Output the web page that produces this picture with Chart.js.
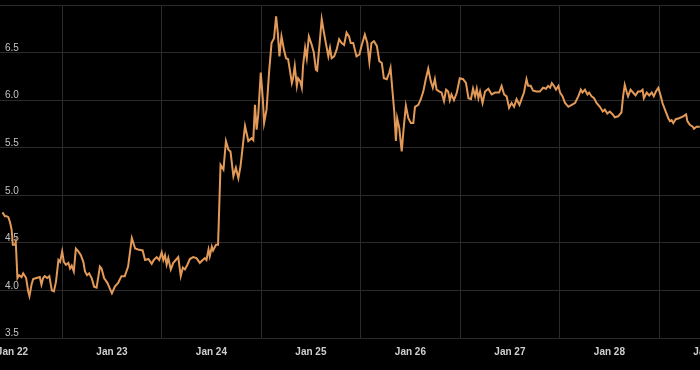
<!DOCTYPE html>
<html>
<head>
<meta charset="utf-8">
<script src="https://cdn.jsdelivr.net/npm/chart.js@4"></script>
<style>
    html, body { margin: 0; padding: 0; background: #000; }
    #wrap { width: 700px; height: 370px; overflow: hidden; position: relative; }
    #chart { display: block; }
</style>
</head>
<body>
<div id="wrap"><canvas id="chart" width="740" height="370"></canvas></div>
<script>
// Data: hours since Jan 22 00:00 and the value at that time
const hours = [
    -2.4, -1.8, -1.4, -1.0, -0.6, -0.2, 0.1, 0.6, 0.8, 1.2, 1.6, 2.2, 2.6, 3.3, 3.8, 4.1, 4.6, 5.0, 5.8, 6.6,
    7.0, 7.4, 7.8, 8.4, 8.9, 9.5, 10.0, 10.5, 11.1, 11.5, 12.0, 12.4, 12.9, 13.5, 13.9, 14.3, 14.8, 15.3, 15.9, 16.5,
    17.1, 17.5, 18.0, 18.5, 19.1, 19.7, 20.3, 21.1, 21.5, 22.1, 22.9, 23.5, 24.0, 24.7, 25.5, 26.3, 27.1, 27.9, 28.8, 29.6,
    30.3, 31.4, 32.0, 32.8, 33.6, 34.1, 34.8, 35.4, 36.0, 36.4, 36.8, 37.2, 37.6, 38.2, 38.8, 39.4, 40.0, 40.6, 41.1, 41.6,
    42.2, 42.8, 43.6, 44.4, 45.2, 45.9, 46.4, 46.8, 47.3, 47.6, 48.1, 48.4, 49.1, 49.6, 50.2, 50.9, 51.5, 52.1, 52.6, 53.3,
    53.9, 54.5, 55.0, 56.1, 56.9, 57.7, 58.1, 58.5, 58.9, 59.3, 59.9, 60.4, 60.7, 61.3, 61.9, 62.5, 63.1, 63.6, 64.0, 64.4,
    64.9, 65.5, 66.0, 66.5, 66.9, 67.4, 67.7, 68.1, 68.6, 68.9, 69.4, 69.8, 70.1, 70.6, 71.0, 71.5, 72.2, 72.7, 73.2, 73.5,
    74.2, 74.6, 75.1, 75.6, 76.2, 76.6, 77.0, 77.6, 78.2, 78.8, 79.4, 80.0, 80.6, 81.2, 81.6, 82.2, 83.0, 83.7, 84.2, 85.0,
    85.6, 86.1, 86.6, 87.2, 87.9, 88.5, 89.1, 89.6, 90.3, 90.9, 91.2, 91.7, 92.1, 92.5, 92.8, 93.3, 93.9, 94.4, 94.9, 95.5,
    96.1, 96.7, 97.1, 97.9, 98.5, 99.1, 99.7, 100.3, 100.9, 101.4, 101.9, 102.3, 103.0, 103.5, 104.1, 104.6, 105.1, 105.5, 105.9, 106.5,
    107.2, 107.9, 108.7, 109.4, 110.0, 110.6, 111.1, 111.6, 112.0, 112.4, 112.8, 113.4, 114.0, 114.8, 115.6, 116.4, 117.4, 118.0, 118.6, 119.2,
    119.8, 120.4, 121.0, 121.6, 122.3, 122.8, 123.4, 124.0, 124.4, 125.0, 125.6, 126.4, 127.2, 128.0, 128.7, 129.2, 129.7, 130.1, 130.6, 131.1,
    131.7, 132.1, 132.7, 133.3, 134.1, 134.9, 135.7, 136.5, 137.1, 137.5, 138.1, 138.7, 139.1, 139.7, 140.3, 140.9, 141.7, 142.4, 142.9, 143.5,
    144.1, 144.8, 145.3, 146.1, 146.9, 147.3, 147.7, 148.2, 148.5, 149.1, 149.7, 150.3, 150.9, 151.5, 152.0, 152.3, 153.0, 153.6, 154.2, 154.7,
    155.2, 155.8, 156.4, 156.8, 157.4, 158.2, 158.6, 159.0, 159.4, 160.0, 160.8, 161.8, 162.5, 162.8, 163.4, 164.1, 164.4, 165.0, 165.8
];
const values = [
    4.82, 4.78, 4.78, 4.77, 4.72, 4.64, 4.48, 4.48, 4.51, 4.13, 4.16, 4.14, 4.18, 4.13, 3.99, 3.94, 4.06, 4.12, 4.13, 4.14,
    4.06, 4.13, 4.15, 4.13, 4.15, 4.00, 3.99, 4.09, 4.32, 4.30, 4.41, 4.30, 4.27, 4.29, 4.23, 4.26, 4.20, 4.44, 4.41, 4.37,
    4.30, 4.20, 4.16, 4.18, 4.13, 4.04, 4.03, 4.25, 4.23, 4.13, 4.08, 4.02, 3.97, 4.04, 4.08, 4.15, 4.15, 4.25, 4.55, 4.44,
    4.43, 4.42, 4.32, 4.33, 4.28, 4.32, 4.35, 4.32, 4.40, 4.32, 4.37, 4.27, 4.34, 4.22, 4.29, 4.32, 4.35, 4.15, 4.24, 4.22,
    4.27, 4.33, 4.35, 4.34, 4.29, 4.32, 4.34, 4.32, 4.43, 4.36, 4.46, 4.42, 4.48, 4.48, 5.32, 5.27, 5.57, 5.48, 5.46, 5.20,
    5.29, 5.18, 5.30, 5.73, 5.57, 5.60, 5.58, 5.95, 5.69, 5.85, 6.29, 6.01, 5.76, 5.90, 6.29, 6.60, 6.65, 6.88, 6.71, 6.46,
    6.67, 6.53, 6.44, 6.43, 6.32, 6.18, 6.23, 6.36, 6.15, 6.23, 6.20, 6.13, 6.36, 6.55, 6.44, 6.67, 6.58, 6.50, 6.32, 6.31,
    6.65, 6.85, 6.72, 6.60, 6.46, 6.55, 6.44, 6.46, 6.53, 6.64, 6.60, 6.58, 6.71, 6.67, 6.60, 6.60, 6.46, 6.48, 6.57, 6.69,
    6.60, 6.40, 6.60, 6.62, 6.57, 6.41, 6.39, 6.23, 6.22, 6.29, 6.34, 6.08, 5.88, 5.57, 5.81, 5.71, 5.46, 5.72, 5.94, 5.81,
    5.76, 5.76, 5.93, 5.95, 6.01, 6.09, 6.22, 6.33, 6.20, 6.13, 6.22, 6.11, 6.09, 6.08, 5.99, 6.11, 6.09, 6.00, 6.06, 6.00,
    6.08, 6.23, 6.22, 6.18, 6.02, 6.01, 6.12, 6.04, 6.12, 6.02, 6.09, 5.97, 6.09, 6.12, 6.06, 6.08, 6.08, 6.15, 6.06, 6.04,
    5.92, 5.97, 5.93, 6.01, 5.95, 6.01, 6.08, 6.22, 6.15, 6.15, 6.10, 6.09, 6.09, 6.13, 6.12, 6.15, 6.13, 6.18, 6.15, 6.11,
    6.15, 6.08, 6.04, 5.97, 5.93, 5.95, 5.97, 6.04, 6.11, 6.08, 6.11, 6.06, 6.08, 6.04, 6.02, 5.97, 5.93, 5.88, 5.90, 5.86,
    5.88, 5.85, 5.82, 5.83, 5.87, 6.04, 6.16, 6.08, 6.04, 6.11, 6.08, 6.05, 6.09, 6.09, 6.11, 6.02, 6.08, 6.05, 6.08, 6.04,
    6.09, 6.13, 6.04, 5.97, 5.90, 5.81, 5.78, 5.79, 5.76, 5.80, 5.81, 5.83, 5.85, 5.78, 5.74, 5.72, 5.70, 5.72, 5.72
];

// Axis settings
const firstDay = 22;          // Jan 22 at hour 0
const xMin = -3.0;            // hours
const xMax = 175.5;           // hours (canvas is wider than the view)
const yTicks = [3.5, 4.0, 4.5, 5.0, 5.5, 6.0, 6.5, 7.0];

const lineColor = '#e39a58';
const gridColor = '#2b2b2b';
const labelColor = '#cfcfcf';

const points = hours.map((h, i) => ({ x: h, y: values[i] }));

new Chart(document.getElementById('chart'), {
    type: 'line',
    data: {
        datasets: [{
            data: points,
            borderColor: lineColor,
            borderWidth: 2,
            pointRadius: 0,
            tension: 0
        }]
    },
    options: {
        responsive: false,
        animation: false,
        layout: { padding: { top: 5, left: 0, right: 0, bottom: 0 } },
        plugins: {
            legend: { display: false },
            tooltip: { enabled: false }
        },
        scales: {
            x: {
                type: 'linear',
                min: xMin,
                max: xMax,
                border: { display: false },
                grid: { color: gridColor, offset: true, drawTicks: false },
                ticks: {
                    stepSize: 24,
                    includeBounds: false,
                    autoSkip: false,
                    maxRotation: 0,
                    padding: 8,
                    color: labelColor,
                    font: { family: 'Liberation Sans', size: 10, weight: 'bold' },
                    callback: value => 'Jan ' + (firstDay + Math.round(value / 24))
                },
                afterFit: scale => {
                    scale.height = 32;
                    scale.paddingLeft = 0;
                    scale.paddingRight = 0;
                }
            },
            y: {
                min: yTicks[0],
                max: yTicks[yTicks.length - 1],
                border: { display: false },
                grid: { color: gridColor, drawTicks: false },
                afterBuildTicks: scale => {
                    scale.ticks = yTicks.map(v => ({ value: v }));
                },
                ticks: {
                    mirror: true,
                    padding: 5,
                    labelOffset: -4.5,
                    color: '#c4c4c4',
                    font: { family: 'Liberation Sans', size: 10 },
                    callback: value => value >= 7 ? '' : value.toFixed(1)
                },
                afterFit: scale => {
                    scale.width = 0;
                    scale.paddingTop = 0;
                    scale.paddingBottom = 0;
                }
            }
        }
    }
});
</script>
</body>
</html>
